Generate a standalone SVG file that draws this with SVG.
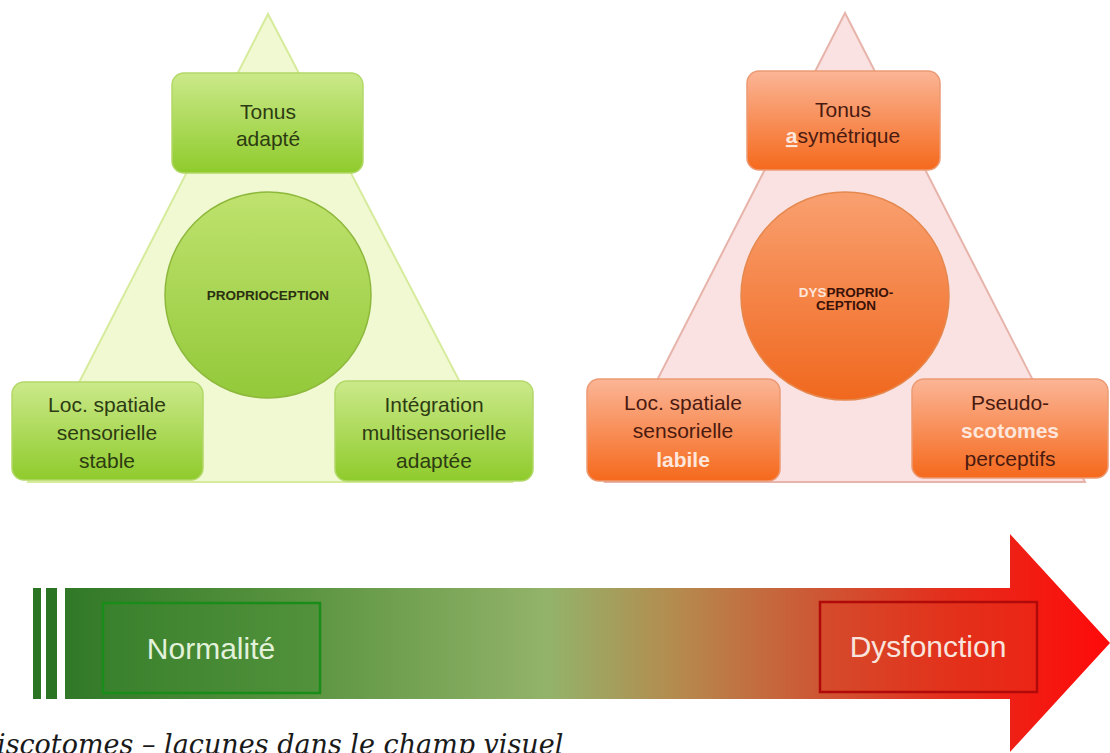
<svg xmlns="http://www.w3.org/2000/svg" width="1110" height="753" viewBox="0 0 1110 753">
<defs>
<linearGradient id="gBox" x1="0" y1="0" x2="0" y2="1"><stop offset="0" stop-color="#cbe98a"/><stop offset="1" stop-color="#8fcb2c"/></linearGradient>
<linearGradient id="gCirc" x1="0" y1="0" x2="0" y2="1"><stop offset="0" stop-color="#bfe26e"/><stop offset="1" stop-color="#93c93a"/></linearGradient>
<linearGradient id="rBox" x1="0" y1="0" x2="0" y2="1"><stop offset="0" stop-color="#fbb596"/><stop offset="1" stop-color="#f5691c"/></linearGradient>
<linearGradient id="rCirc" x1="0" y1="0" x2="0" y2="1"><stop offset="0" stop-color="#f9a070"/><stop offset="1" stop-color="#f0681e"/></linearGradient>
<linearGradient id="bar" x1="30" y1="0" x2="1110" y2="0" gradientUnits="userSpaceOnUse">
<stop offset="0" stop-color="#2a7424"/><stop offset="0.25" stop-color="#5a9440"/><stop offset="0.48" stop-color="#93b36a"/><stop offset="0.6" stop-color="#b58a4e"/><stop offset="0.72" stop-color="#cc5a36"/><stop offset="0.85" stop-color="#e42e1c"/><stop offset="1" stop-color="#ff0a0a"/></linearGradient>
<style>
.t{font-family:"Liberation Sans",Arial,sans-serif;font-size:21px;text-anchor:middle}
.tg{fill:#2d3b12}
.tr{fill:#4a1a10}
.hl{fill:#fde6dc;font-weight:bold}
.c{font-family:"Liberation Sans",Arial,sans-serif;font-size:13.5px;font-weight:bold;text-anchor:middle}
.gb{fill:url(#gBox);stroke:#b2d868;stroke-width:1.5}
.rb{fill:url(#rBox);stroke:#ec9a74;stroke-width:1.5}
.lbl{font-family:"Liberation Sans",Arial,sans-serif;font-size:30px;text-anchor:middle}
</style>
</defs>
<rect width="1110" height="753" fill="#ffffff"/>
<g id="green-triangle"><polygon points="268,14 28,482 512,482" fill="#f1f9d2" stroke="#d6eb9c" stroke-width="2"/></g>
<g id="red-triangle"><polygon points="845,13 605,482 1085,482" fill="#fbe2e2" stroke="#e6b4aa" stroke-width="2"/></g>
<g id="connectors"></g>
<g id="g-top"><rect class="gb" x="172" y="73" width="191" height="100" rx="12"/><text class="t tg" x="268" y="119">Tonus</text><text class="t tg" x="268" y="146">adapté</text></g>
<g id="g-center"><circle cx="268" cy="295" r="103" fill="url(#gCirc)" stroke="#8db83c" stroke-width="1.5"/><text class="c" x="268" y="300" fill="#2a3010">PROPRIOCEPTION</text></g>
<g id="g-left"><rect class="gb" x="12" y="382" width="191" height="98" rx="12"/><text class="t tg" x="107" y="412">Loc. spatiale</text><text class="t tg" x="107" y="440">sensorielle</text><text class="t tg" x="107" y="468">stable</text></g>
<g id="g-right"><rect class="gb" x="335" y="381" width="198" height="100" rx="12"/><text class="t tg" x="434" y="412">Intégration</text><text class="t tg" x="434" y="440">multisensorielle</text><text class="t tg" x="434" y="468">adaptée</text></g>
<g id="r-top"><rect class="rb" x="747" y="71" width="193" height="99" rx="12"/><text class="t tr" x="843" y="117">Tonus</text><text class="t tr" x="843" y="143"><tspan class="hl" text-decoration="underline">a</tspan>symétrique</text></g>
<g id="r-center"><circle cx="845" cy="296" r="104" fill="url(#rCirc)" stroke="#e5884e" stroke-width="1.5"/><text class="c" x="846" y="297" fill="#3a1208"><tspan fill="#fde6dc">DYS</tspan>PROPRIO-</text><text class="c" x="846" y="310" fill="#3a1208">CEPTION</text></g>
<g id="r-left"><rect class="rb" x="587" y="379" width="193" height="102" rx="12"/><text class="t tr" x="683" y="410">Loc. spatiale</text><text class="t tr" x="683" y="438">sensorielle</text><text class="t hl" x="683" y="467">labile</text></g>
<g id="r-right"><rect class="rb" x="912" y="379" width="196" height="99" rx="12"/><text class="t tr" x="1010" y="410">Pseudo-</text><text class="t hl" x="1010" y="438">scotomes</text><text class="t tr" x="1010" y="466">perceptifs</text></g>
<g id="arrow">
<rect x="33" y="588" width="8" height="111" fill="#2a7424"/>
<rect x="46" y="588" width="11" height="111" fill="#2a7424"/>
<polygon points="65,588 1010,588 1010,534 1110,643 1010,752 1010,699 65,699" fill="url(#bar)"/>
</g>
<g id="normalite"><rect x="103" y="603" width="217" height="90" fill="#3f8a32" fill-opacity="0.35" stroke="#1a8c1a" stroke-width="2.5"/><text class="lbl" x="211" y="659" fill="#e2f2da">Normalité</text></g>
<g id="dysfonction"><rect x="820" y="602" width="217" height="90" fill="#e0381e" fill-opacity="0.35" stroke="#b00a0a" stroke-width="2.5"/><text class="lbl" x="928" y="657" fill="#f8e4dc">Dysfonction</text></g>
<g id="footnote"><text x="-3" y="754" font-family="'DejaVu Serif','Liberation Serif',serif" font-style="italic" font-size="27" fill="#1a1a1a">iscotomes – lacunes dans le champ visuel</text></g>
</svg>
